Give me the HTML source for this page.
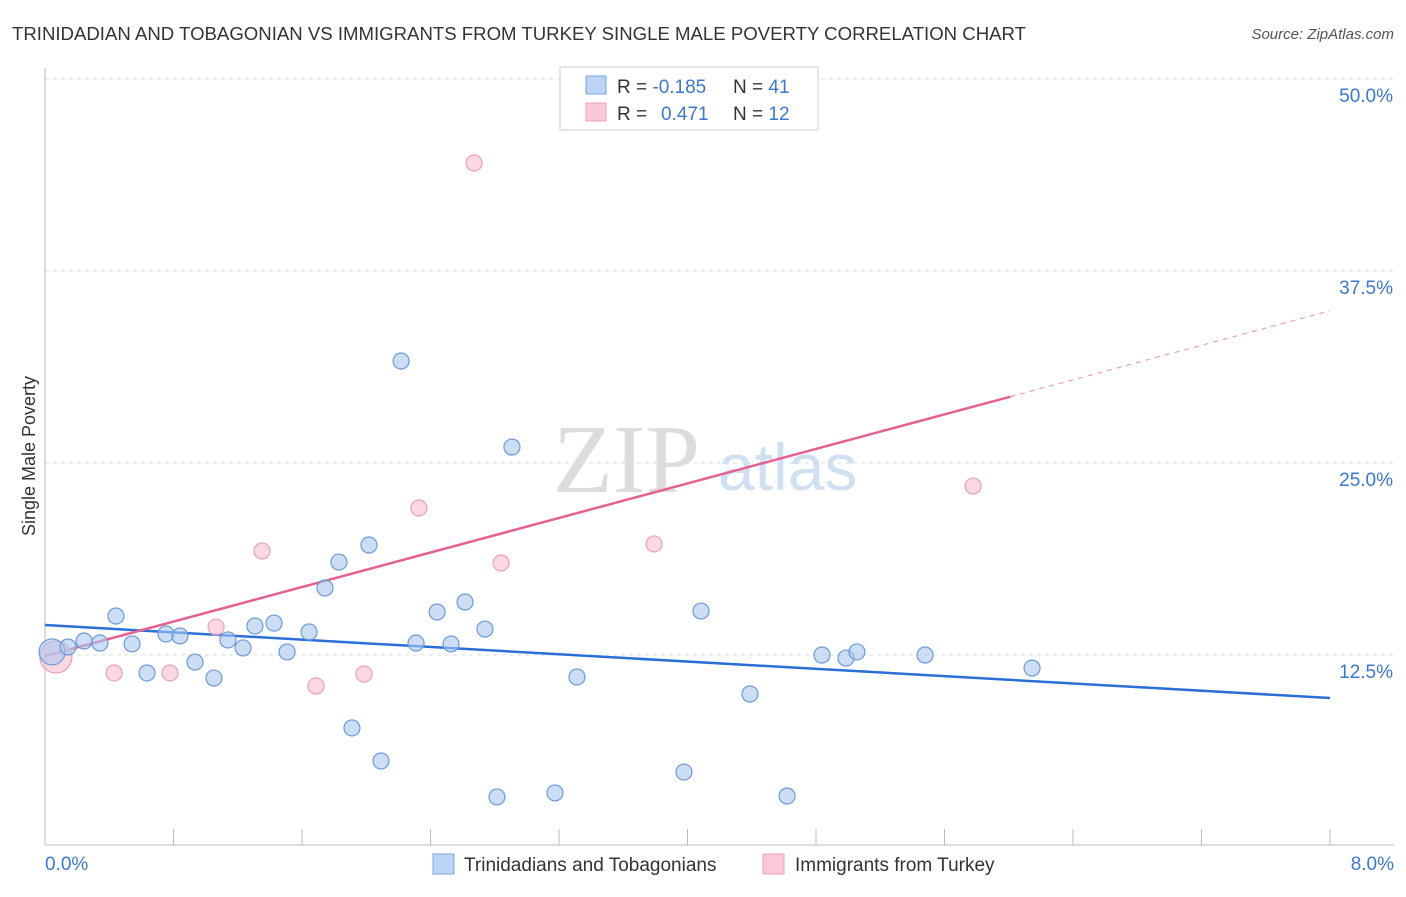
<!DOCTYPE html>
<html><head><meta charset="utf-8"><style>
body{margin:0;background:#fff;font-family:"Liberation Sans",sans-serif}
</style></head><body>
<svg width="1406" height="892" xmlns="http://www.w3.org/2000/svg" id="chart" font-family="Liberation Sans, sans-serif">
<text x="12" y="40" font-size="18" fill="#333" textLength="1014" lengthAdjust="spacingAndGlyphs">TRINIDADIAN AND TOBAGONIAN VS IMMIGRANTS FROM TURKEY SINGLE MALE POVERTY CORRELATION CHART</text>
<text x="1394" y="39" font-size="15" fill="#555" font-style="italic" text-anchor="end">Source: ZipAtlas.com</text>
<text x="553" y="492" font-size="98" fill="#dcdcdc" style="font-family:'Liberation Serif',serif">ZIP</text>
<text x="718" y="490" font-size="66" fill="#cfe0f3">atlas</text>
<g id="grid"></g>
<g id="axes"></g>
<g id="trends"></g>
<g id="points"></g>
<text x="35" y="456" font-size="18" fill="#333" text-anchor="middle" transform="rotate(-90 35 456)">Single Male Poverty</text>
<text x="45" y="870" font-size="19" fill="#3a78d4">0.0%</text>
<text x="1394" y="870" font-size="19" fill="#3a78d4" text-anchor="end">8.0%</text>
<g>
<rect x="560" y="67" width="258" height="63" fill="#fff" stroke="#ccc"/>
<rect x="586" y="76" width="20" height="18" fill="#bcd4f5" stroke="#7aa6e0"/>
<rect x="586" y="103" width="20" height="18" fill="#f9c9d8" stroke="#eaa0b8"/>
<text x="617" y="93" font-size="19" fill="#333">R = <tspan fill="#3a78d4">-0.185</tspan><tspan x="733">N = </tspan><tspan fill="#3a78d4">41</tspan></text>
<text x="617" y="120" font-size="19" fill="#333">R = <tspan fill="#3a78d4" x="661">0.471</tspan><tspan x="733">N = </tspan><tspan fill="#3a78d4">12</tspan></text>
</g>
<g>
<rect x="433" y="854" width="21" height="20" fill="#bcd4f5" stroke="#7aa6e0"/>
<text x="464" y="871" font-size="19" fill="#333">Trinidadians and Tobagonians</text>
<rect x="763" y="854" width="21" height="20" fill="#f9c9d8" stroke="#eaa0b8"/>
<text x="795" y="871" font-size="19" fill="#333">Immigrants from Turkey</text>
</g>
</svg>
<script>
const yTicks=[12.5,25,37.5,50];
const yTickLabels=["12.5%","25.0%","37.5%","50.0%"];
const blueX=[0.044,0.143,0.243,0.342,0.442,0.542,0.635,0.753,0.840,0.934,1.052,1.139,1.233,1.307,1.426,1.507,1.644,1.743,1.830,1.911,2.017,2.092,2.217,2.310,2.441,2.528,2.615,2.739,2.814,2.907,3.175,3.312,3.978,4.084,4.389,4.620,4.837,4.987,5.055,5.479,6.145];
const blueY=[12.70,13.02,13.41,13.28,15.04,13.22,11.33,13.87,13.74,12.04,11.00,13.48,12.96,14.39,14.58,12.70,14.00,16.86,18.55,7.75,19.66,5.60,31.64,13.28,15.30,13.22,15.95,14.19,3.26,26.04,3.52,11.07,4.88,15.36,9.96,3.32,12.50,12.30,12.70,12.50,11.65];
const pinkX=[0.068,0.430,0.778,1.065,1.351,1.687,1.986,2.328,2.671,2.839,3.792,5.778];
const pinkY=[12.37,11.33,11.33,14.32,19.27,10.48,11.26,22.07,44.53,18.49,19.73,23.50];
const blueTrend=[14.45,-0.594];
const pinkTrend=[12.43,2.81];
const pinkSolidEnd=6.01;
const NS="http://www.w3.org/2000/svg";
const X=v=>45+v/8*1285, Y=v=>847-v*15.36;
function mk(tag,attrs,parent){const e=document.createElementNS(NS,tag);for(const k in attrs)e.setAttribute(k,attrs[k]);document.getElementById(parent).appendChild(e);return e;}
yTicks.forEach((t,i)=>{
 const l=mk('line',{x1:45,x2:1394,y1:Y(t),y2:Y(t),stroke:'#ddd','stroke-dasharray':'4,4'},'grid');
 
 
 const tx=mk('text',{x:1393,y:Y(t)+23,'font-size':19,fill:'#3a78d4','text-anchor':'end'},'grid');
 tx.textContent=yTickLabels[i];
 
 
});
let a=mk('line',{x1:45,x2:45,y1:68,y2:845,stroke:'#bbb'},'axes');


a=mk('line',{x1:45,x2:1394,y1:845,y2:845,stroke:'#bbb'},'axes');


for(let i=0;i<=10;i++){const t=mk('line',{x1:X(i*0.8),x2:X(i*0.8),y1:829,y2:845,stroke:'#bbb'},'axes');

}
let t1=mk('line',{x1:X(0),y1:Y(blueTrend[0]),x2:X(8),y2:Y(blueTrend[0]+blueTrend[1]*8),stroke:'#2a6fd6','stroke-width':2.5},'trends');


let t2=mk('line',{x1:X(0),y1:Y(pinkTrend[0]),x2:X(pinkSolidEnd),y2:Y(pinkTrend[0]+pinkTrend[1]*pinkSolidEnd),stroke:'#e8608f','stroke-width':2.5},'trends');


let t3=mk('line',{x1:X(pinkSolidEnd),y1:Y(pinkTrend[0]+pinkTrend[1]*pinkSolidEnd),x2:X(8),y2:Y(pinkTrend[0]+pinkTrend[1]*8),stroke:'#e8a0b8','stroke-width':1.2,'stroke-dasharray':'5,5'},'trends');


pinkX.forEach((x,i)=>{const c=mk('circle',{cx:X(x),cy:Y(pinkY[i]),r:i==0?16:8,fill:'rgba(249,190,210,0.6)',stroke:'#eaa0b8','stroke-width':1.2},'points');

});
blueX.forEach((x,i)=>{const c=mk('circle',{cx:X(x),cy:Y(blueY[i]),r:i==0?13:8,fill:'rgba(170,200,240,0.6)',stroke:'#6a9ad8','stroke-width':1.2},'points');

});
</script>
</body></html>
